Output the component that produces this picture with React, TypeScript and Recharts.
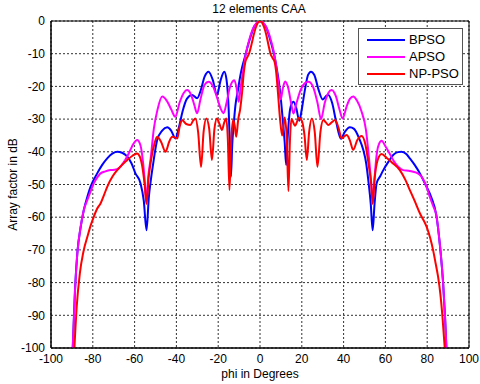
import React from "react"
import {
  LineChart,
  Line,
  XAxis,
  YAxis,
  CartesianGrid,
  ReferenceArea,
  Legend,
} from "recharts"

const FONT = "'Liberation Sans', Arial, Helvetica, sans-serif"

const xTicks = [-100, -80, -60, -40, -20, 0, 20, 40, 60, 80, 100]
const yTicks = [0, -10, -20, -30, -40, -50, -60, -70, -80, -90, -100]

// [phi in degrees, array factor in dB]
const bpso: [number, number][] = [
  [-89.6, -100], [-88.5, -82], [-87.4, -71], [-85.8, -63], [-84.3, -57.8],
  [-82.5, -53.5], [-81.1, -50.7], [-77.9, -46.6], [-75.5, -44], [-73.1, -42],
  [-70.5, -40.5], [-68.3, -40], [-66, -40.3], [-63.5, -41.5], [-61.5, -43.5],
  [-59.6, -46.6], [-57.2, -49.6], [-55.6, -55], [-54.3, -64], [-53.2, -54],
  [-52.2, -48.5], [-51.2, -44], [-49.2, -36.4], [-46.8, -33.5], [-44.4, -32.5],
  [-42.5, -33.5], [-40.5, -35.9], [-38.8, -32.5], [-37, -27.5], [-35, -23.8],
  [-32.5, -22.6], [-30.1, -23.6], [-28.5, -21.5], [-26.5, -17], [-24.6, -15.5],
  [-22.6, -18], [-20.6, -22.6], [-18.8, -18], [-17.1, -15.5], [-16, -18],
  [-15, -27], [-14.4, -38], [-13.9, -47.6], [-13.3, -38], [-12.5, -31],
  [-11.8, -26], [-10.5, -21], [-9.5, -17], [-8.5, -14], [-7, -10.5],
  [-6, -8], [-5, -5.8], [-4, -3.8], [-3, -2], [-2, -1], [-1, -0.3], [0, 0],
  [1, -0.3], [2, -1], [3, -2], [4, -3.8], [5, -6], [6, -8.3], [7, -11],
  [8, -14.5], [9, -18.5], [10, -24], [11, -31], [11.8, -37], [12.5, -44],
  [13.2, -36], [14, -29], [15, -25.5], [16, -24.7], [17.3, -26.5],
  [18.8, -30.5], [20, -27], [21.5, -21], [23, -16.5], [24.4, -15.5],
  [26, -16.5], [28, -21], [30, -24], [31.5, -23], [32.7, -22.6], [34.5, -25],
  [36.5, -31], [38.7, -36], [40.5, -34], [43, -32.5], [45, -33], [47.5, -36],
  [49.4, -39.4], [50.8, -43.5], [51.8, -48.6], [53, -56], [53.9, -64],
  [54.8, -56], [55.8, -49.6], [57.5, -47.5], [59, -45.6], [61.5, -43],
  [63.7, -41], [66, -40.1], [67.7, -40], [70, -40.7], [71.7, -42], [74, -44],
  [76.5, -46.6], [78, -48.5], [79.7, -50.7], [82, -54], [84.4, -59.5],
  [86, -68], [87.6, -80], [88.5, -90], [89.2, -100],
]

const apso: [number, number][] = [
  [-89.6, -100], [-88.5, -82.3], [-87.4, -71], [-85.8, -62.9], [-84.3, -57.8],
  [-82.6, -54.7], [-81, -52], [-79.5, -49.6], [-77.5, -47.5], [-76.3, -46.6],
  [-74, -46], [-71.5, -45.6], [-69.5, -45.5], [-67.5, -45], [-65, -43],
  [-62.8, -40.5], [-60.5, -37.5], [-58.8, -36.4], [-57.2, -38], [-56, -43],
  [-55, -50], [-54.3, -55.5], [-53.5, -48], [-52.3, -42], [-50.8, -33],
  [-49, -27], [-46.8, -23.1], [-44.5, -24.5], [-42.5, -27], [-40.5, -29.3],
  [-38.5, -25], [-36.5, -22], [-34.9, -21.1], [-33, -22.5], [-31.5, -25.5],
  [-30.1, -28.2], [-28.5, -24], [-26.5, -19.5], [-24.6, -18.6], [-22.5, -20],
  [-20.5, -23.5], [-19, -26.5], [-17.4, -28.2], [-16, -25], [-14.5, -20.5],
  [-12.3, -18.1], [-11.2, -20.5], [-10.2, -24.7], [-9.2, -20], [-8, -15],
  [-7, -10.8], [-6, -7.8], [-5, -5.4], [-4, -3.4], [-3, -1.9], [-2, -0.9],
  [-1, -0.2], [0, 0], [1, -0.2], [2, -0.9], [3, -1.9], [4, -3.4], [5, -5.4],
  [6, -7.8], [7, -10.8], [8, -15], [9, -20], [9.9, -24], [10.8, -21],
  [12, -18.5], [13.5, -20.5], [15, -25.5], [16, -28.3], [17.5, -25],
  [19.5, -21], [21.5, -19], [23.2, -18.6], [25.3, -20], [27.5, -25],
  [29.2, -30], [31, -25], [32.7, -22], [34.3, -21.1], [36.3, -23], [38, -27],
  [39.5, -29.8], [41.5, -26], [43, -23.8], [44.6, -23.1], [46.5, -24.5],
  [48.5, -27.5], [50.7, -33.3], [52.3, -43], [53.3, -50], [54, -55.5],
  [54.8, -48], [56, -40], [57, -37.5], [58.2, -36.6], [60, -38.3], [62, -40.5],
  [63.7, -42.5], [66, -44.5], [68.5, -45.6], [71, -45.8], [73.3, -46.1],
  [75.5, -46.6], [77.3, -47.6], [79.7, -50.7], [81.2, -53.7], [82.8, -56.5],
  [84.4, -59.5], [86, -68], [87.6, -80], [88.5, -90], [89.2, -100],
]

const npPso: [number, number][] = [
  [-88.8, -100], [-87.7, -87.4], [-86.2, -77.2], [-84.3, -70], [-82.6, -66],
  [-81, -62.5], [-79.5, -59.8], [-78, -57.5], [-76.3, -55.8], [-74.5, -53],
  [-73.1, -50.7], [-70.5, -47.5], [-68.3, -45.6], [-66, -44], [-63.5, -42.5],
  [-61, -41.2], [-58.8, -40.5], [-57.5, -41.5], [-56.2, -45], [-55.2, -50],
  [-54.3, -56], [-53.3, -48], [-52, -42], [-50.5, -37.5], [-49.2, -35.4],
  [-47.3, -37], [-45.2, -40], [-43.5, -37], [-42, -35.4], [-40.8, -35.6],
  [-39.6, -35.9], [-38.5, -32.5], [-37.3, -30.3], [-35.3, -31.5],
  [-33.3, -31.8], [-32, -30.5], [-30.9, -29.8], [-29.6, -34], [-28.2, -44.6],
  [-27, -34], [-25.7, -29.8], [-24.3, -33], [-23, -42.5], [-21.8, -33],
  [-20.6, -29.8], [-19.4, -31.5], [-18.2, -33.3], [-17.1, -31], [-16.1, -29.8],
  [-15.4, -36], [-14.6, -51.7], [-13.8, -37], [-12.9, -30.3], [-12.1, -32],
  [-11.4, -35.4], [-10.4, -30], [-9.5, -27], [-8.6, -22], [-7.8, -16],
  [-7, -12.5], [-6, -11], [-5, -9.5], [-4, -7], [-3, -4.2], [-2, -2],
  [-1, -0.5], [0, 0], [1, -0.5], [2, -2], [3, -4.2], [4, -7.2], [5, -10],
  [6, -11.3], [7, -12.5], [7.8, -16], [8.6, -22], [9.6, -30], [10.6, -35],
  [11.8, -29.5], [12.8, -36], [13.6, -52], [14.3, -37], [15, -30],
  [16.8, -32], [18.6, -29.6], [20, -30.5], [21.3, -35], [22.4, -42.5],
  [23.5, -34], [24.8, -29.8], [26.2, -34], [27.5, -44.6], [28.9, -34],
  [30.3, -30.3], [31.5, -31], [32.7, -31.8], [34.3, -31], [35.9, -30.3],
  [37.5, -32.5], [39.1, -35.9], [40.3, -35.3], [41.5, -34.9], [43, -36.5],
  [44.6, -39.4], [46.5, -36.5], [48.6, -35.2], [50.5, -38], [52, -44],
  [53.2, -50], [53.9, -56], [54.8, -48.5], [56.3, -42.5], [58.2, -40.7],
  [60.5, -41.8], [63, -43.2], [66.9, -45.6], [69.5, -48.5], [71.7, -51.7],
  [74, -55], [76.5, -58.8], [79.7, -62.9], [81.5, -66.5], [82.8, -70],
  [84, -74], [85.2, -78.2], [86.3, -83.5], [87.3, -90.4], [88.4, -100],
]

const seriesInfo = [
  { name: "BPSO", color: "#0000ff", points: bpso },
  { name: "APSO", color: "#ff00ff", points: apso },
  { name: "NP-PSO", color: "#ff0000", points: npPso },
]

const toRows = (pts: [number, number][]) => pts.map(([x, y]) => ({ x, y }))

function LegendBox() {
  return (
    <div
      style={{
        position: "relative",
        width: 105,
        height: 57,
        border: "1px solid #555",
        background: "#fff",
        boxSizing: "border-box",
        fontFamily: FONT,
        fontSize: 13,
        color: "#000",
      }}
    >
      {seriesInfo.map((s, i) => (
        <div key={s.name} style={{ position: "absolute", left: 0, top: 3 + i * 17, height: 16, width: 103 }}>
          <div style={{ position: "absolute", left: 8, top: 7, width: 38, height: 2, background: s.color }} />
          <div style={{ position: "absolute", left: 50, top: 0, lineHeight: "16px" }}>{s.name}</div>
        </div>
      ))}
    </div>
  )
}

export default function App() {
  return (
    <div style={{ position: "absolute", left: 0, top: 0, width: 480, height: 384, background: "#fff", fontFamily: FONT }}>
      <div
        style={{
          position: "absolute",
          left: 0,
          top: 1,
          width: 518,
          textAlign: "center",
          fontSize: 12,
          lineHeight: "16px",
          color: "#000",
        }}
      >
        12 elements CAA
      </div>
      <LineChart width={480} height={384} margin={{ top: 21, right: 11, bottom: 0, left: 0 }} style={{ fontFamily: FONT }}>
        <CartesianGrid stroke="#333" strokeDasharray="2 2" />
        <XAxis
          type="number"
          dataKey="x"
          domain={[-100, 100]}
          ticks={xTicks}
          allowDataOverflow
          height={36}
          tickLine={false}
          tickSize={3}
          tickMargin={3}
          axisLine={{ stroke: "#000" }}
          tick={{ fill: "#000", fontSize: 12, fontFamily: FONT }}
          label={{ value: "phi in Degrees", position: "insideBottom", offset: 6, fill: "#000", fontSize: 12, fontFamily: FONT }}
        />
        <YAxis
          type="number"
          domain={[-100, 0]}
          ticks={yTicks}
          allowDataOverflow
          width={51}
          tickLine={false}
          tickSize={4}
          tickMargin={2}
          axisLine={{ stroke: "#000" }}
          tick={{ fill: "#000", fontSize: 12, fontFamily: FONT }}
          label={{
            value: "Array factor in dB",
            angle: -90,
            position: "insideLeft",
            offset: 13,
            fill: "#000",
            fontSize: 12,
            fontFamily: FONT,
            style: { textAnchor: "middle" },
          }}
        />
        {seriesInfo.map((s) => (
          <Line
            key={s.name}
            data={toRows(s.points)}
            dataKey="y"
            name={s.name}
            type="monotone"
            stroke={s.color}
            strokeWidth={2}
            dot={false}
            isAnimationActive={false}
          />
        ))}
        <ReferenceArea x1={-100} x2={100} y1={-100} y2={0} fill="none" stroke="#000" strokeWidth={1} />
        <Legend
          layout="horizontal"
          verticalAlign="middle"
          align="center"
          wrapperStyle={{ left: 358, top: 28, width: 105, height: 57 }}
          content={() => <LegendBox />}
        />
      </LineChart>
    </div>
  )
}
